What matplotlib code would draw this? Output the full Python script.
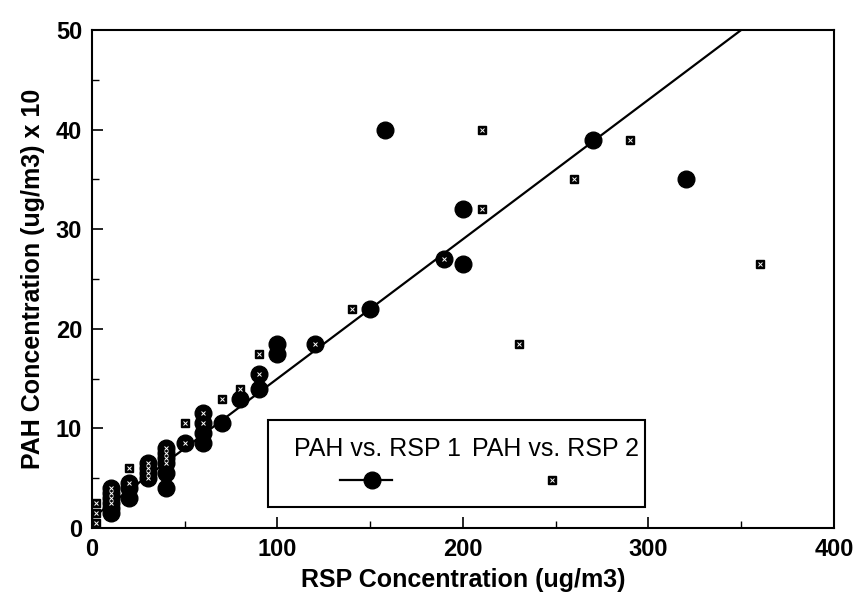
import matplotlib
matplotlib.use("Agg")
import matplotlib.pyplot as plt
from matplotlib.patches import Rectangle

# Series 1: PAH vs. RSP 1 (large filled circles)
s1_x = [10, 10, 10, 10, 10, 10, 20, 20, 20, 30, 30, 30, 30,
        40, 40, 40, 40, 40, 40, 50, 60, 60, 60, 60, 70, 80, 90, 90,
        100, 100, 120, 150, 158, 190, 200, 200, 270, 320]
s1_y = [4, 3.5, 3, 2.5, 2, 1.5, 4.5, 4, 3, 6.5, 6, 5.5, 5,
        8, 7.5, 7, 6.5, 5.5, 4, 8.5, 11.5, 10.5, 9.5, 8.5, 10.5, 13, 14, 15.5,
        18.5, 17.5, 18.5, 22, 40, 27, 32, 26.5, 39, 35]

# Series 2: PAH vs. RSP 2 (small dotted squares)
s2_x = [2, 2, 2, 10, 10, 10, 10, 20, 20, 30, 30, 30, 30,
        40, 40, 40, 40, 50, 50, 60, 60, 70, 80, 90, 90,
        120, 140, 190, 210, 210, 230, 260, 290, 360]
s2_y = [0.5, 1.5, 2.5, 4, 3.5, 3, 2.5, 4.5, 6, 6.5, 6, 5.5, 5,
        8, 7.5, 7, 6.5, 8.5, 10.5, 11.5, 10.5, 13, 14, 15.5, 17.5,
        18.5, 22, 27, 40, 32, 18.5, 35, 39, 26.5]

# Fitted line for series 1
fit_x = [0, 350]
fit_y = [1, 50]

x_ticks = [0, 100, 200, 300, 400]
y_ticks = [0, 10, 20, 30, 40, 50]

fig = plt.figure(figsize=(8.66, 6.02), dpi=100)
ax = fig.add_axes([0.1062, 0.1229, 0.8568, 0.8273])

ax.plot(fit_x, fit_y, color="black", lw=1.6, zorder=2)
ax.plot(s1_x, s1_y, "o", color="black", ms=12, zorder=3, clip_on=False)
ax.plot(s2_x, s2_y, "s", color="black", ms=6.3, zorder=4, clip_on=False)
ax.plot(s2_x, s2_y, "x", color="white", ms=3.2, mew=0.7, zorder=5, clip_on=False)

ax.set_xlim(0, 400)
ax.set_ylim(0, 50)
ax.set_xticks(x_ticks)
ax.set_yticks(y_ticks)
ax.set_xticks([50, 150, 250, 350], minor=True)
ax.set_yticks([5, 15, 25, 35, 45], minor=True)
ax.tick_params(which="major", direction="in", length=8, width=1.2,
               labelsize=17, pad=7)
ax.tick_params(which="minor", direction="in", length=5, width=1.0)
for lab in ax.get_xticklabels() + ax.get_yticklabels():
    lab.set_fontfamily("Liberation Sans")
    lab.set_fontweight("bold")
for sp in ax.spines.values():
    sp.set_linewidth(1.5)

ax.set_xlabel("RSP Concentration (ug/m3)", fontsize=18, fontweight="bold",
              family="Liberation Sans", labelpad=5)
ax.set_ylabel("PAH Concentration (ug/m3) x 10", fontsize=18, fontweight="bold",
              family="Liberation Sans", labelpad=8)

# Custom legend (labels above handles)
T = ax.transAxes
ax.add_patch(Rectangle((0.2372, 0.0422), 0.7453 - 0.2372, 0.2169 - 0.0422,
                       transform=T, fill=True, facecolor="white",
                       edgecolor="black", lw=1.5, zorder=6))
ax.text(0.385, 0.158, "PAH vs. RSP 1", transform=T, ha="center", va="center",
        fontsize=18, family="Liberation Sans", zorder=7)
ax.text(0.625, 0.158, "PAH vs. RSP 2", transform=T, ha="center", va="center",
        fontsize=18, family="Liberation Sans", zorder=7)
ax.plot([0.334, 0.404], [0.0964, 0.0964], color="black", lw=1.6,
        transform=T, zorder=7)
ax.plot([0.3774], [0.0964], "o", color="black", ms=12, transform=T, zorder=8)
ax.plot([0.620], [0.0964], "s", color="black", ms=6.3, transform=T, zorder=8)
ax.plot([0.620], [0.0964], "x", color="white", ms=3.2, mew=0.7, transform=T, zorder=9)

fig.savefig("out.png", dpi=100)
